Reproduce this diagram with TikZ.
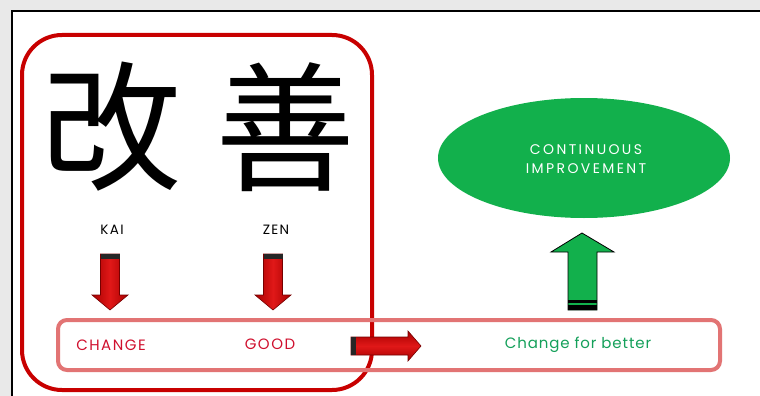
\documentclass[tikz,border=0pt]{standalone}
\usepackage{fontspec}
\setmainfont{Poppins}
\newfontfamily\cjk{Noto Sans CJK JP}
\newfontfamily\capsa[LetterSpace=10]{Poppins}
\newfontfamily\capsb[LetterSpace=17]{Poppins}
\newfontfamily\lowsp[LetterSpace=6]{Poppins}
\usetikzlibrary{shapes.geometric}
\definecolor{kred}{HTML}{C80000}
\definecolor{pinkline}{HTML}{E27474}
\definecolor{tred}{HTML}{D0102E}
\definecolor{kgreen}{HTML}{12B04C}
\definecolor{tgreen}{HTML}{14A05A}
\definecolor{bggray}{HTML}{E9E9E9}
\definecolor{arrdark}{HTML}{A80000}
\definecolor{arrmid}{HTML}{E01818}
\tikzset{
  kanji/.style={font=\cjk\fontsize{140}{142}\selectfont, inner sep=0pt},
  small/.style={font=\capsa\fontsize{13.5}{15}\selectfont, inner sep=0pt},
  redtxt/.style={font=\capsa\fontsize{15}{17}\selectfont, text=tred, inner sep=0pt},
  redarrow/.style={draw=arrdark!70!black, line width=0.6pt, left color=arrdark, right color=arrdark, middle color=arrmid},
}
\begin{document}
\begin{tikzpicture}[x=1pt,y=-1pt]
\useasboundingbox (0,0) rectangle (760,396);
\fill[bggray] (0,0) rectangle (760,396);
\fill[white] (12,11) rectangle (760,396);
\draw[black, line width=2pt] (12,396) -- (12,11) -- (760,11);
% red rounded frame
\draw[kred, line width=4pt, rounded corners=40pt] (22,35) rectangle (372,390);
% characters
\node[kanji] (kai) at (111,127) {改};
\node[kanji] (zen) at (285,127) {善};
\node[small] (kailbl) at (112,230) {KAI};
\node[small] (zenlbl) at (276,230) {ZEN};
% pink box
\draw[pinkline, line width=4pt, rounded corners=9pt] (58,320) rectangle (720,370);
\node[redtxt] (change) at (111,345) {CHANGE};
\node[redtxt] (good) at (270,344) {GOOD};
\node[font=\lowsp\fontsize{15}{17}\selectfont, text=tgreen, inner sep=0pt] (better) at (578,345) {Change for better};
% down arrows
\foreach \cx/\nm in {110/a1, 273/a2}{
  \draw[redarrow] (\cx-9.5,254) -- (\cx+9.5,254) -- (\cx+9.5,295) -- (\cx+18,295) -- (\cx,310) -- (\cx-18,295) -- (\cx-9.5,295) -- cycle;
  \fill[black!85] (\cx-9.5,254) rectangle (\cx+9.5,259);
  \coordinate (\nm) at (\cx,254);
}
% right arrow
\draw[redarrow, top color=arrdark, bottom color=arrdark, middle color=arrmid]
  (351,337) -- (408,337) -- (408,331) -- (421,346) -- (408,361) -- (408,355) -- (351,355) -- cycle;
\fill[black!85] (351,337) rectangle (356,355);
% green ellipse
\node[ellipse, fill=kgreen, minimum width=292pt, minimum height=120pt, inner sep=0pt] (ci) at (584,158) {};
\node[font=\capsb\fontsize{14}{16}\selectfont, text=white, align=center, inner sep=0pt] (citxt) at (586,159) {CONTINUOUS\\[3pt]IMPROVEMENT};
% green up arrow
\draw[black, line width=0.8pt, fill=kgreen] (582,233) -- (614,252) -- (597,252) -- (597,310) -- (568,310) -- (568,252) -- (551,252) -- cycle;
\fill[black] (568,300) rectangle (597,302.5);
\fill[black] (568,305) rectangle (597,310);
\end{tikzpicture}
\end{document}
